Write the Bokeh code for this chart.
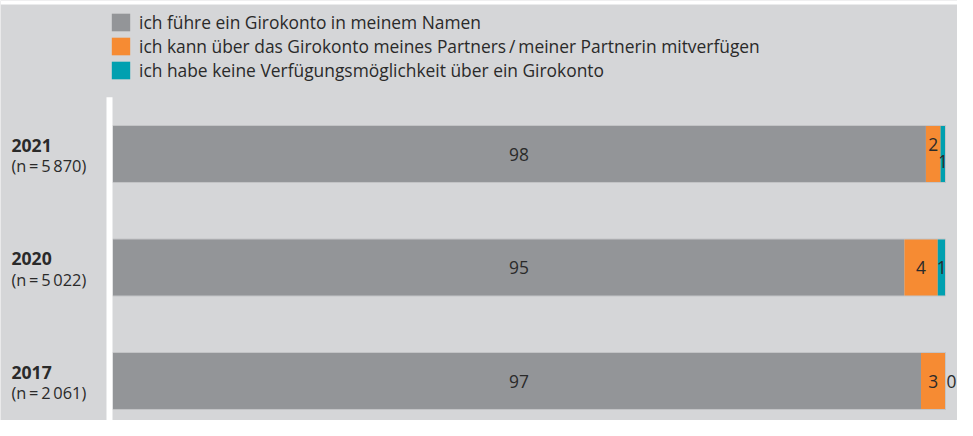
from bokeh.plotting import figure
from bokeh.models import Range1d, ColumnDataSource, Legend, LegendItem, BoxAnnotation
from bokeh.core.properties import value
from bokeh.embed import file_html
from bokeh.resources import INLINE

# ---------------- data ----------------
years = ["2017", "2020", "2021"]
sample_sizes = ["(n\u2009=\u20092\u2009061)", "(n\u2009=\u20095\u2009022)", "(n\u2009=\u20095\u2009870)"]
own_account = [97.06, 95.07, 97.65]
partner_account = [2.94, 4.00, 1.76]
no_access = [0.00, 0.93, 0.59]
own_labels = ["97", "95", "98"]
partner_labels = ["3", "4", "2"]
no_access_labels = ["0", "1", "1"]
series_names = [
    "ich führe ein Girokonto in meinem Namen",
    "ich kann über das Girokonto meines Partners\u2009/\u2009meiner Partnerin mitverfügen",
    "ich habe keine Verfügungsmöglichkeit über ein Girokonto",
]

# ---------------- style ----------------
BG = "#d5d6d8"
COLORS = ["#939598", "#f68b33", "#00a0b0"]
EDGE = "#c3c4c6"
TEXT = "#2a2a2a"
FONT = "Open Sans"
FS = "17.4px"
W, H = 957, 420
PX_PER_X = 8.33
PX_PER_Y = 113.5
X0_PX = 112
Y0_PX = 39.5
BAR_H = 0.502
GRAY_LABEL_X = 48.8
partner_dy = [0, 0, -10]
none_dy = [0, 0, 7]
none_dx = [6, 0, 0]

xs = -X0_PX / PX_PER_X
xe = xs + W / PX_PER_X
ys = -Y0_PX / PX_PER_Y
ye = ys + H / PX_PER_Y

ypos = list(range(len(years)))
totals = [a + b + c for a, b, c in zip(own_account, partner_account, no_access)]
src = ColumnDataSource(dict(
    y=ypos, own=own_account, partner=partner_account, none=no_access, total=totals,
))

p = figure(width=W, height=H, x_range=Range1d(xs, xe), y_range=Range1d(ys, ye),
           x_axis_location=None, y_axis_location=None,
           toolbar_location=None, output_backend="svg", min_border=0,
           background_fill_color=BG, border_fill_color=BG, outline_line_color=None)
p.xgrid.visible = False
p.ygrid.visible = False

# white top strip and white divider
p.add_layout(BoxAnnotation(bottom=ye - 4 / PX_PER_Y, fill_color="white", fill_alpha=1,
                           line_color=None))
p.add_layout(BoxAnnotation(left=-6 / PX_PER_X, right=0, top=max(ypos) + 0.5,
                           fill_color="white", fill_alpha=1, line_color=None))

rs = p.hbar_stack(["own", "partner", "none"], y="y", height=BAR_H, color=COLORS,
                  line_color=None, source=src)
p.hbar(y="y", left=0, right="total", height=BAR_H, fill_color=None,
       line_color=EDGE, line_width=1, source=src)

# value labels
p.text(x=[GRAY_LABEL_X] * len(years), y=ypos, text=own_labels,
       text_align="center", text_baseline="middle", text_font=value(FONT),
       text_font_size=FS, text_color=TEXT)
px = [a + b / 2 for a, b in zip(own_account, partner_account)]
p.text(x=px, y=ypos, text=partner_labels, y_offset=partner_dy,
       text_align="center", text_baseline="middle", text_font=value(FONT),
       text_font_size=FS, text_color=TEXT)
nx = [a + b + c / 2 for a, b, c in zip(own_account, partner_account, no_access)]
p.text(x=nx, y=ypos, text=no_access_labels, x_offset=none_dx, y_offset=none_dy,
       text_align="center", text_baseline="middle", text_font=value(FONT),
       text_font_size=FS, text_color=TEXT)

# category labels
p.text(x=[xs] * len(years), y=ypos, text=years, x_offset=11, y_offset=-9,
       text_align="left", text_baseline="middle", text_font=value(FONT),
       text_font_size="17.6px", text_font_style="bold", text_color=TEXT)
p.text(x=[xs] * len(years), y=ypos, text=sample_sizes, x_offset=11, y_offset=11.5,
       text_align="left", text_baseline="middle", text_font=value(FONT),
       text_font_size="16.4px", text_color=TEXT)

legend = Legend(items=[LegendItem(label=n, renderers=[r]) for n, r in zip(series_names, rs)],
                location=(109, H - 16 - 66), orientation="vertical",
                glyph_width=23, glyph_height=22, label_height=22, spacing=0,
                padding=0, margin=0, label_standoff=7, border_line_color=None,
                background_fill_alpha=0, label_text_font=FONT, label_text_font_size=FS,
                label_text_color=TEXT, label_text_baseline="middle")
p.add_layout(legend)

open("out.html", "w").write(file_html(p, INLINE))
